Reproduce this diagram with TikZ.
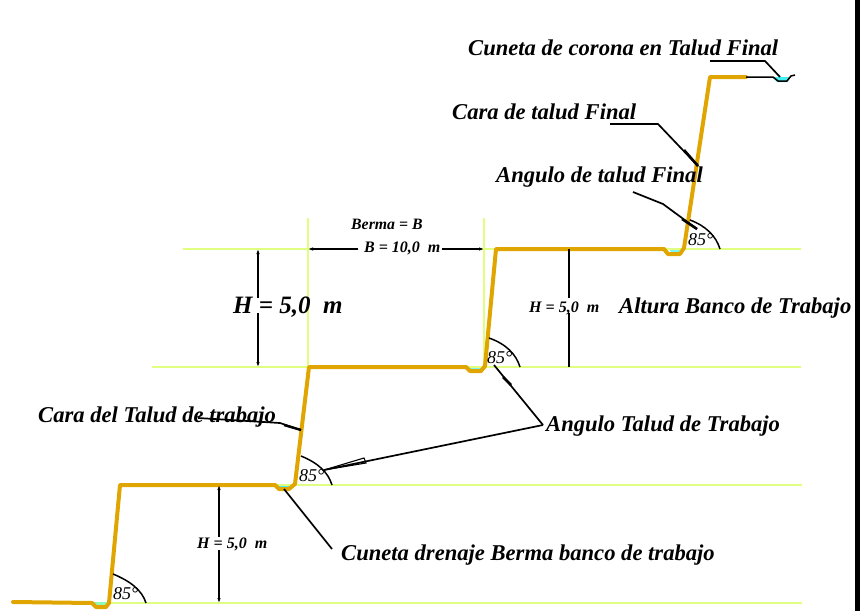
\documentclass[tikz,border=0pt]{standalone}
\usepackage{fontspec}
\setmainfont{Liberation Serif}
\usetikzlibrary{arrows.meta}
\definecolor{guide}{HTML}{E0FF80}
\definecolor{slope}{HTML}{E0A500}
\definecolor{water}{HTML}{40F0F0}
\newcommand{\labfont}[1]{\bfseries\itshape\fontsize{#1}{#1}\selectfont}
\tikzset{x=1pt,y=-1pt,
 guideline/.style={guide,line width=1.8pt},
 slopeline/.style={slope,line width=4pt,line join=round,line cap=round},
 leader/.style={black,line width=1.7pt},
 dimarrow/.style={black,line width=1.7pt,-{Latex[length=5pt,width=3.5pt]}},
 angarc/.style={black,line width=1.5pt},
 lab/.style={inner sep=0pt,anchor=west},
 biglab/.style={lab,font=\labfont{22.6}},
 smalllab/.style={lab,font=\labfont{16}},
 anglab/.style={lab,font=\itshape\fontsize{18}{18}\selectfont},
}
\begin{document}
\begin{tikzpicture}
\useasboundingbox (0,0) rectangle (860,611);
\fill[black] (855,0) rectangle (860,611);
% water
\fill[water!70!white] (669,249) -- (681,249) -- (679,252) -- (671,252) -- cycle;
\fill[water!70!white] (468,367) -- (483,367) -- (481,370) -- (471,370) -- cycle;
\fill[water] (276,484) -- (293,484) -- (289,488) -- (279,488) -- cycle;
\fill[water!50!guide] (93,602) -- (107,602) -- (105,606) -- (96,606) -- cycle;
\fill[water] (772,77) -- (791,77) -- (787,82) -- (777,82) -- cycle;
% guides
\draw[guideline] (183,249) -- (801,249);
\draw[guideline] (152,367) -- (801,367);
\draw[guideline] (120,485) -- (802,485);
\draw[guideline] (108,603) -- (802,603);
\draw[guideline] (308,218) -- (308,367);
\draw[guideline] (484,218) -- (484,367);
\fill[white] (358,246) rectangle (442,252);
% slope
\draw[slopeline] (13,602) -- (92,603) -- (96,607) -- (106,607) -- (109,603) -- (120,485)
 -- (275,485) -- (279,489) -- (289,489) -- (295,484) -- (309,367)
 -- (466,367) -- (470,371) -- (481,371) -- (485,366) -- (496,249)
 -- (664,249) -- (668,254) -- (680,254) -- (684,248) -- (710,77) -- (746,77);
% crown ditch
\coordinate (ditchA) at (746,77);
\coordinate (ditchB) at (773,77);
\coordinate (ditchC) at (778,81);
\coordinate (ditchD) at (787,81);
\coordinate (ditchE) at (791,76);
\coordinate (ditchF) at (795,75);
\draw[black,line width=1.5pt,line join=round] (ditchA) -- (ditchB) -- (ditchC) -- (ditchD) -- (ditchE) -- (ditchF);
% arcs
\draw[angarc] (113,574) .. controls (130,581) and (142,590) .. (146,603);
\draw[angarc] (301,456) .. controls (318,463) and (328,472) .. (332,485);
\draw[angarc] (489,338) .. controls (506,344) and (516,354) .. (520,367);
\draw[angarc] (690,220) .. controls (706,226) and (716,236) .. (720,249);
% dimensions
\draw[dimarrow] (258,298) -- (258,249);
\draw[dimarrow] (258,313) -- (258,367);
\draw[dimarrow] (219,537) -- (219,485);
\draw[dimarrow] (219,550) -- (219,603);
\draw[black,line width=1.7pt] (569,249) -- (569,298);
\draw[black,line width=1.7pt] (569,313) -- (569,367);
\draw[dimarrow] (358,249) -- (308,249);
\draw[dimarrow] (442,249) -- (484,249);
% leaders
\draw[leader] (710,61) -- (765,61) -- (780,77);
\draw[leader] (610,124) -- (658,124) -- (698,166);
\draw[leader,line width=2.6pt] (684,150) -- (698,166);
\draw[leader] (633,192) -- (663,204) -- (697,229);
\draw[leader,line width=2.6pt] (682,219) -- (697,229);
\draw[leader] (198,418) -- (280,423) -- (301,430);
\draw[leader,line width=2.4pt] (284,425) -- (301,430);
\draw[leader] (543,425) -- (494,365);
\draw[leader,line width=2.8pt] (503,377) -- (511,385);
\draw[leader] (543,425) -- (324,470);
\draw[leader,line width=1.1pt] (324,470) -- (364,458) -- (366,463) -- cycle;
\draw[leader] (284,489) -- (332,549);
% texts
\node[biglab] at (468,48) {Cuneta de corona en Talud Final};
\node[biglab] at (452,112) {Cara de talud Final};
\node[biglab] at (496,177) {Angulo de talud Final};
\node[lab,font=\labfont{15.8}] at (351,224) {Berma = B};
\node[smalllab] at (364,248) {B = 10,0\ \ m};
\node[lab,font=\labfont{25}] at (233,307) {H = 5,0\ \ m};
\node[smalllab] at (529,308) {H = 5,0\ \ m};
\node[biglab] at (619,308) {Altura Banco de Trabajo};
\node[biglab] at (546,426) {Angulo Talud de Trabajo};
\node[biglab] at (38,417) {Cara del Talud de trabajo};
\node[smalllab] at (197,544) {H = 5,0\ \ m};
\node[biglab] at (341,555) {Cuneta drenaje Berma banco de trabajo};
\node[anglab] at (113,594) {85°};
\node[anglab] at (299,476) {85°};
\node[anglab] at (487,358) {85°};
\node[anglab] at (688,240) {85°};
\end{tikzpicture}
\end{document}
